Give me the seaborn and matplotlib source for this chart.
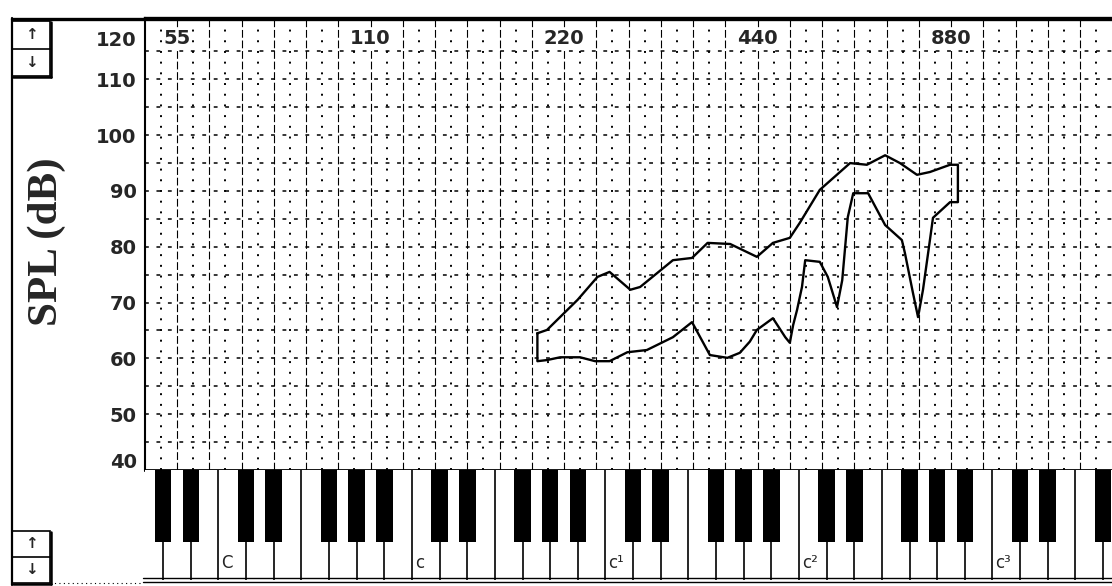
import numpy as np
import matplotlib
matplotlib.use("Agg")
import matplotlib.pyplot as plt
import matplotlib.transforms as mtransforms
from matplotlib.lines import Line2D
from matplotlib.patches import Rectangle
import seaborn as sns

# ---------------- data ----------------
upper_hz = [200, 207, 231, 248, 259, 279, 289, 325, 348, 368, 399, 439, 465,
            494, 512, 550, 613, 651, 695, 733, 779, 816, 877, 902]
upper_db = [64.5, 65.1, 70.5, 74.6, 75.5, 72.3, 72.8, 77.6, 78.0, 80.7, 80.5,
            78.2, 80.7, 81.6, 84.3, 90.2, 95.0, 94.7, 96.4, 95.0, 92.9, 93.4,
            94.7, 94.7]
lower_hz = [200, 207, 217, 233, 246, 259, 276, 296, 325, 348, 371, 395, 413,
            428, 439, 465, 486, 494, 500, 507, 516, 522, 550, 566, 585, 596,
            608, 620, 654, 695, 738, 746, 768, 782, 796, 816, 825, 877, 902]
lower_db = [59.5, 59.7, 60.2, 60.2, 59.5, 59.5, 61.1, 61.5, 63.8, 66.5, 60.6,
            60.1, 61.0, 63.0, 65.1, 67.2, 63.8, 62.8, 66.0, 68.7, 72.8, 77.6,
            77.3, 74.6, 69.2, 74.0, 85.3, 89.6, 89.6, 83.9, 81.2, 78.9, 71.7,
            67.4, 72.3, 81.2, 85.2, 88.0, 88.0]

x_tick_hz = [55, 110, 220, 440, 880]
x_tick_labels = ["55", "110", "220", "440", "880"]
y_ticks = [40, 50, 60, 70, 80, 90, 100, 110, 120]
y_tick_labels = ["40", "50", "60", "70", "80", "90", "100", "110", "120"]
note_names = ["C", "c", "c¹", "c²", "c³"]
note_white_index = [2, 9, 16, 23, 30]   # white-key index counted from A (55 Hz)
ylabel = "SPL (dB)"

# ---------------- style ----------------
sns.set_style("white")
plt.rcParams['font.family'] = ['DejaVu Sans']

W, H = 1112, 586
fig = plt.figure(figsize=(W / 100, H / 100), dpi=100)
fig.patch.set_facecolor('white')

def fx(px):
    return px / W

def fy(py):
    return 1 - py / H

L, R, T, B, KB = 145, 1112, 18, 470, 580
ax = fig.add_axes([fx(L), fy(B), fx(R) - fx(L), fy(T) - fy(B)])
kb = fig.add_axes([fx(L), fy(KB), fx(R) - fx(L), fy(B) - fy(KB)])

# x range: log frequency, 1 octave = 193.5 px, 55 Hz at x=177 px
oct_px = 193.5
f_left = 55 * 2 ** ((L - 177) / oct_px)
f_right = 55 * 2 ** ((R - 177) / oct_px)
for a in (ax, kb):
    a.set_xscale('log', base=2)
    a.set_xlim(f_left, f_right)
    a.set_facecolor('white')
ax.set_ylim(40, 121)

# ---------------- grid ----------------
for k in range(-1, 60):
    f = 55 * 2 ** (k / 12)
    if f <= f_left or f >= f_right:
        continue
    if k % 2 == 0:
        ax.axvline(f, color='black', lw=0.8, ls=(0, (7, 2.5)), zorder=1)
    else:
        ax.axvline(f, color='black', lw=1.4, ls=(0, (1, 4.5)), zorder=1)
for db in range(45, 120, 5):
    ax.axhline(db, color='black', lw=1.1, ls=(0, (2.5, 5)), zorder=1)

# ---------------- contour (closed voice range profile) ----------------
path_hz = list(upper_hz) + list(reversed(lower_hz)) + [upper_hz[0]]
path_db = list(upper_db) + list(reversed(lower_db)) + [upper_db[0]]
sns.lineplot(x=path_hz, y=path_db, sort=False, estimator=None, color='black',
             lw=1.7, ax=ax, zorder=5)

# ---------------- axes cosmetics ----------------
ax.set_xlabel('')
ax.set_ylabel('')
ax.set_xticks([])
ax.xaxis.set_minor_locator(matplotlib.ticker.NullLocator())
ax.set_yticks(y_ticks)
ax.set_yticklabels(y_tick_labels, fontsize=14, fontweight='bold')
ax.tick_params(axis='y', length=0, pad=6)
tl = ax.get_yticklabels()
tl[-1].set_transform(tl[-1].get_transform() +
                     mtransforms.ScaledTranslation(0, -15 / 100, fig.dpi_scale_trans))
tl[0].set_transform(tl[0].get_transform() +
                    mtransforms.ScaledTranslation(0, 9 / 100, fig.dpi_scale_trans))
ax.spines['right'].set_visible(False)
ax.spines['left'].set_linewidth(1.5)
ax.spines['bottom'].set_linewidth(2.0)
ax.spines['top'].set_linewidth(2.4)
for s in ax.spines.values():
    s.set_color('black')

trans = mtransforms.blended_transform_factory(ax.transData, ax.transAxes)
for f, lab in zip(x_tick_hz, x_tick_labels):
    ax.text(f, 1 - 21 / (B - T), lab, transform=trans, ha='center', va='center',
            fontsize=14, fontweight='bold', zorder=6,
            bbox=dict(facecolor='white', edgecolor='none', pad=1.0))

# ---------------- piano keyboard ----------------
kb.set_ylim(0, 1)
kb.set_xticks([])
kb.set_yticks([])
kb.xaxis.set_minor_locator(matplotlib.ticker.NullLocator())
for s in kb.spines.values():
    s.set_visible(False)
names_cycle = ['A', 'B', 'C', 'D', 'E', 'F', 'G']
black_after = {'A', 'C', 'D', 'F', 'G'}
for j in range(-3, 37):
    edge = 55 * 2 ** ((j - 0.5) / 7)
    kb.vlines(edge, 0, 1, color='black', lw=1.2, zorder=1)
    nm = names_cycle[j % 7]
    if nm in black_after:
        c = 55 * 2 ** ((j + 0.5) / 7)
        kb.axvspan(c * 2 ** (-0.3 / 7), c * 2 ** (0.3 / 7), ymin=0.345, ymax=1,
                   color='black', lw=0, zorder=2)
for nm, j in zip(note_names, note_white_index):
    left = 55 * 2 ** ((j - 0.5) / 7)
    kb.text(left * 2 ** (3 / oct_px), 0.15, nm, ha='left', va='center',
            fontsize=12)

# ---------------- window frame ----------------
def fline(x0, y0, x1, y1, lw=1.5, **kw):
    fig.add_artist(Line2D([fx(x0), fx(x1)], [fy(y0), fy(y1)], color='black',
                          lw=lw, transform=fig.transFigure, **kw))

fline(12, 18.5, 1112, 18.5, lw=2.4)          # top frame
fline(12, 18, 12, 585, lw=1.6)               # left frame
fline(143, 578, 1112, 578, lw=1.0)           # keyboard double bottom line
fline(143, 582, 1112, 582, lw=1.0)
fline(50, 583, 143, 583, lw=0.8, ls=(0, (1, 3)))

def arrow_box(y0, y1):
    ym = (y0 + y1) / 2
    fig.add_artist(Rectangle((fx(12), fy(y1)), fx(50) - fx(12), fy(y0) - fy(y1),
                             facecolor='white', edgecolor='black', lw=1.2,
                             transform=fig.transFigure))
    fline(50.5, y0 + 1, 50.5, y1 + 1, lw=1.8)
    fline(13, y1 + 0.5, 51, y1 + 0.5, lw=1.8)
    fline(12, ym, 50, ym, lw=1.2)
    fig.text(fx(31), fy((y0 + ym) / 2), '↑', ha='center', va='center',
             fontsize=11, fontweight='bold')
    fig.text(fx(31), fy((ym + y1) / 2), '↓', ha='center', va='center',
             fontsize=11, fontweight='bold')

arrow_box(21, 76)
arrow_box(531, 583)

fig.text(fx(47), fy(242), ylabel, rotation=90, ha='center', va='center',
         fontsize=31, fontweight='bold', family=['Liberation Serif', 'DejaVu Serif'])

fig.savefig('out.png', dpi=100, facecolor='white')
